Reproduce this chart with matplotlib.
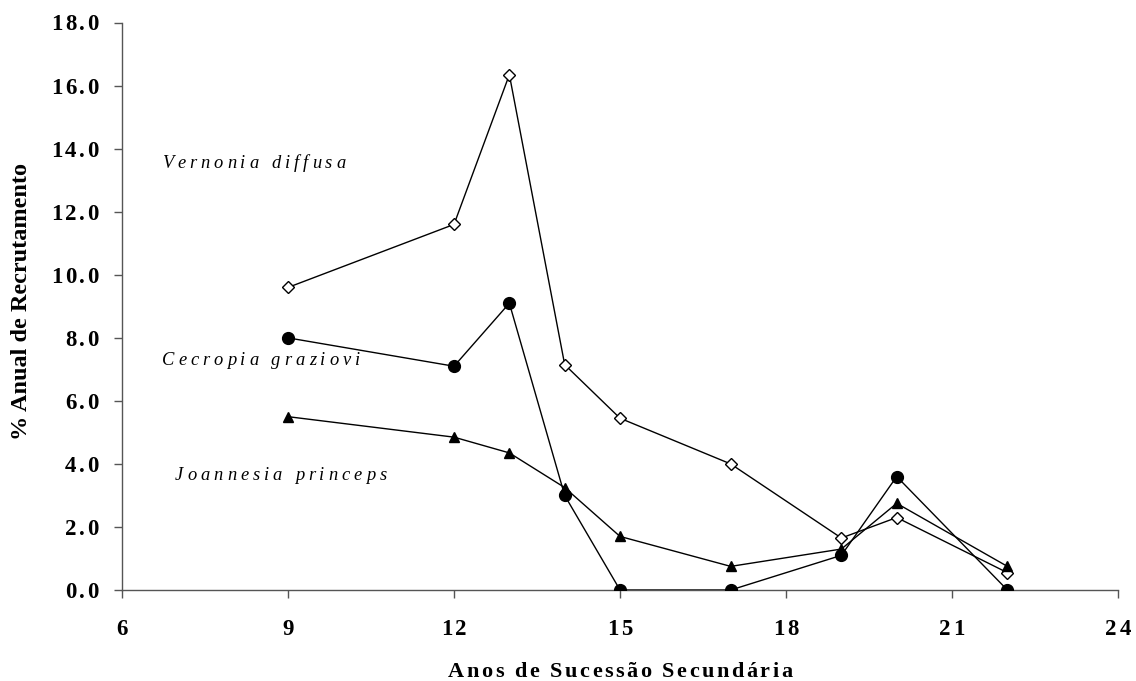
import matplotlib
matplotlib.use("Agg")
import matplotlib.pyplot as plt
from matplotlib.ticker import MultipleLocator
from matplotlib.font_manager import FontProperties, findfont, get_font
from matplotlib.transforms import ScaledTranslation, blended_transform_factory

# Years of secondary succession
anos = [9, 12, 13, 14, 15, 17, 19, 20, 22]

# Annual recruitment (%) per species
vernonia = [9.6, 11.6, 16.35, 7.15, 5.45, 4.0, 1.65, 2.3, 0.55]
cecropia = [8.0, 7.1, 9.1, 3.0, 0.0, 0.0, 1.1, 3.6, 0.0]
joannesia = [5.5, 4.85, 4.35, 3.25, 1.7, 0.75, 1.3, 2.75, 0.75]

especies = ["Vernonia diffusa", "Cecropia graziovi", "Joannesia princeps"]
xlabel = "Anos de Sucessão Secundária"
ylabel = "% Anual de Recrutamento"

SERIF = ["Liberation Serif", "DejaVu Serif"]
plt.rcParams["font.family"] = SERIF
DPI = 100

fig = plt.figure(figsize=(11.36, 6.81), dpi=DPI)
ax = fig.add_axes([0.1074, 0.1336, 0.8768, 0.8331])


def advances(text, size, weight="normal", style="normal"):
    """Horizontal advance of each character, in pixels."""
    fp = FontProperties(family=SERIF, weight=weight, style=style, size=size)
    font = get_font(findfont(fp))
    font.set_size(size, DPI)
    return [font.load_char(ord(c)).linearHoriAdvance / 65536 for c in text]


def spaced_text(x, y, text, transform, size, gap, ha="left", dx=0.0, dy=0.0,
                weight="normal", style="normal"):
    """Draw a string on its baseline with extra tracking between letters."""
    adv = advances(text, size, weight, style)
    total = sum(adv) + gap * (len(text) - 1)
    pos = {"left": 0.0, "center": -total / 2, "right": -total}[ha] + dx
    for ch, a in zip(text, adv):
        tr = transform + ScaledTranslation(pos / DPI, dy / DPI, fig.dpi_scale_trans)
        ax.text(x, y, ch, transform=tr, ha="left", va="baseline",
                fontsize=size, fontweight=weight, fontstyle=style,
                color="black", clip_on=False)
        pos += a + gap


ax.plot(anos, vernonia, color="black", lw=1.0, marker="D", ms=6,
        mfc="white", mec="black", mew=1.0, zorder=3)
ax.plot(anos, cecropia, color="black", lw=1.0, marker="o", ms=8.5,
        mfc="black", mec="black", zorder=3)
ax.plot(anos, joannesia, color="black", lw=1.0, marker="^", ms=7.5,
        mfc="black", mec="black", zorder=3)

ax.set_xlim(6, 24)
ax.set_ylim(0, 18)
ax.xaxis.set_major_locator(MultipleLocator(3))
ax.yaxis.set_major_locator(MultipleLocator(2))

for side in ("top", "right"):
    ax.spines[side].set_visible(False)
for side in ("left", "bottom"):
    ax.spines[side].set_color("#555555")
    ax.spines[side].set_linewidth(1.0)

ax.tick_params(axis="both", direction="out", length=5.8, width=1.0,
               color="#555555", labelleft=False, labelbottom=False)

# Tick labels with letter tracking
ytr = blended_transform_factory(ax.transAxes, ax.transData)
for v in ax.get_yticks():
    if 0 <= v <= 18:
        spaced_text(0, v, f"{v:.1f}", ytr, 16.5, 2.7, ha="right",
                    dx=-23, dy=-7.8, weight="bold")
xtr = blended_transform_factory(ax.transData, ax.transAxes)
for v in ax.get_xticks():
    if 6 <= v <= 24:
        spaced_text(v, 0, f"{v:.0f}", xtr, 16.5, 2.7, ha="center",
                    dy=-45, weight="bold")

# Axis titles
spaced_text(0.5, 0, xlabel, ax.transAxes, 16, 2.5, ha="center", dy=-87,
            weight="bold")
ax.set_ylabel(ylabel, fontweight="bold", fontsize=17.5, va="center")
ax.yaxis.set_label_coords(-0.1014, 0.508)

# Species names beside their series
posicoes = [(6.72, 13.4), (6.72, 7.14), (6.96, 3.49)]
for nome, (px, py) in zip(especies, posicoes):
    spaced_text(px, py, nome, ax.transData, 13.3, 4.0, ha="left",
                style="italic")

fig.savefig("out.png", dpi=DPI)
